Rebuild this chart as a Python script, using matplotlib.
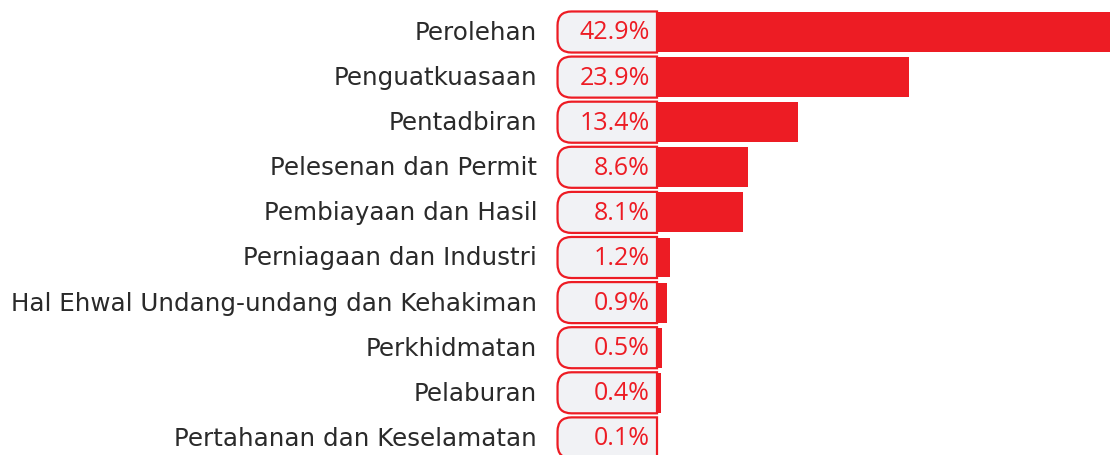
import matplotlib
matplotlib.use("Agg")
import matplotlib.pyplot as plt
from matplotlib.path import Path
from matplotlib.patches import PathPatch
from matplotlib.transforms import IdentityTransform

categories = ["Perolehan", "Penguatkuasaan", "Pentadbiran", "Pelesenan dan Permit",
              "Pembiayaan dan Hasil", "Perniagaan dan Industri",
              "Hal Ehwal Undang-undang dan Kehakiman", "Perkhidmatan", "Pelaburan",
              "Pertahanan dan Keselamatan"]
values = [42.9, 23.9, 13.4, 8.6, 8.1, 1.2, 0.9, 0.5, 0.4, 0.1]
value_labels = ["42.9%", "23.9%", "13.4%", "8.6%", "8.1%", "1.2%", "0.9%", "0.5%", "0.4%", "0.1%"]

RED = "#ED1C24"
BOXFILL = "#F1F2F5"
TEXT = "#2a2a2a"
FONT = ["DejaVu Sans"]
VFONT = ["Open Sans", "DejaVu Sans"]

W, H, DPI = 1110, 455, 100
fig = plt.figure(figsize=(W / DPI, H / DPI), dpi=DPI)
fig.patch.set_facecolor("white")

ax_left_px = 557
ax = fig.add_axes([ax_left_px / W, 0, (W - ax_left_px) / W, 1])
zero_px = 657
scale = (W - zero_px) / max(values)
xmin = -(zero_px - ax_left_px) / scale
ax.set_xlim(xmin, max(values))
row0, step = 32, 45.1
ax.set_ylim((H - row0) / step, -row0 / step)
ax.axis("off")

ys = list(range(len(values)))
ax.barh(ys, values, height=0.885, color=RED, zorder=3)

fig.canvas.draw()
renderer = fig.canvas.get_renderer()
probe = fig.text(0, 0, max(categories, key=len), fontsize=15, family=FONT)
w15 = probe.get_window_extent(renderer).width
probe.remove()
label_size = 15 * 525 / w15
probe = fig.text(0, 0, "42.9%", fontsize=15, family=VFONT)
v15 = probe.get_window_extent(renderer).width
probe.remove()
value_size = 15 * 70 / v15

box_h = 0.91
r = 14
for y, lab, cat in zip(ys, value_labels, categories):
    (x0, yt), (x1, yb) = ax.transData.transform([(xmin + 0.05, y - box_h / 2), (0, y + box_h / 2)])
    ylo, yhi = min(yt, yb), max(yt, yb)
    verts = [(x1, ylo), (x0 + r, ylo), (x0, ylo), (x0, ylo + r), (x0, yhi - r),
             (x0, yhi), (x0 + r, yhi), (x1, yhi), (x1, ylo)]
    codes = [Path.MOVETO, Path.LINETO, Path.CURVE3, Path.CURVE3, Path.LINETO,
             Path.CURVE3, Path.CURVE3, Path.LINETO, Path.CLOSEPOLY]
    patch = PathPatch(Path(verts, codes), facecolor=BOXFILL, edgecolor=RED, lw=1.6,
                      transform=IdentityTransform(), zorder=2, clip_on=False)
    ax.add_artist(patch)
    ax.text(-7 / scale, y + 0.02, lab, ha="right", va="center", color=RED, fontsize=value_size,
            family=VFONT, zorder=4)
    ax.text(xmin - 20 / scale, y + 0.02, cat, ha="right", va="center", color=TEXT,
            fontsize=label_size, family=FONT, clip_on=False)

fig.savefig("out.png", dpi=DPI)
